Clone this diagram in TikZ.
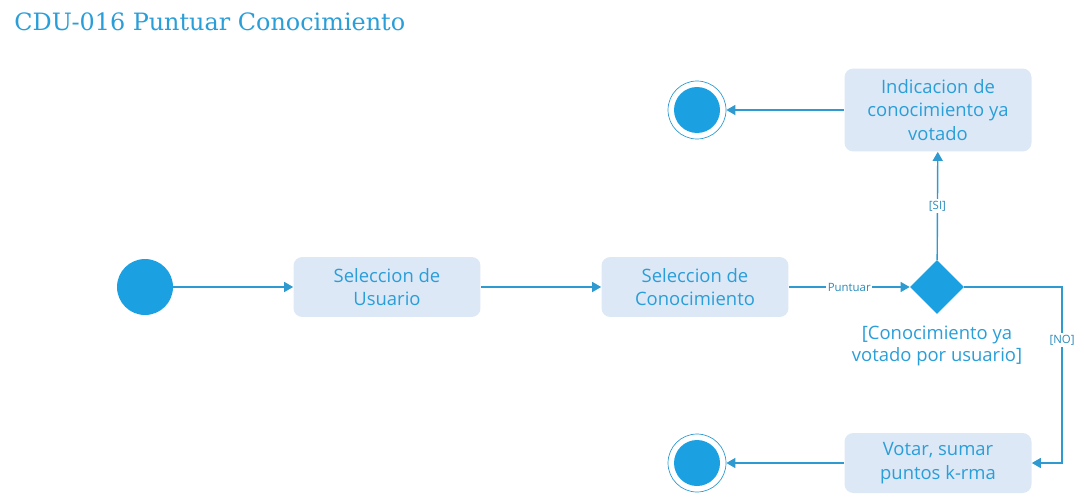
\documentclass[tikz,border=0pt]{standalone}
\usepackage{fontspec}
\setmainfont{Open Sans}
\newfontfamily\titlefont{DejaVu Serif}
\usetikzlibrary{arrows.meta,positioning,shapes.geometric}
\definecolor{accent}{HTML}{1BA1E2}
\definecolor{linec}{HTML}{2E9AD0}
\definecolor{boxfill}{HTML}{DCE8F6}
\definecolor{txt}{HTML}{2A9ED8}

\begin{document}
\begin{tikzpicture}[x=0.02cm, y=-0.02cm,
  every node/.style={font=\fontsize{10.5}{13.5}\selectfont, text=txt},
  act/.style={fill=boxfill, rounded corners=5pt,
              minimum width=3.74cm, minimum height=1.2cm,
              align=center, inner sep=2pt},
  startnode/.style={circle, fill=accent, minimum size=1.12cm, inner sep=0pt},
  endnode/.style={circle, draw=linec, line width=0.4pt, minimum size=1.16cm, inner sep=0pt,
                  path picture={\fill[accent] (path picture bounding box.center) circle (0.46cm);}},
  decision/.style={diamond, fill=accent, minimum size=1.08cm, inner sep=0pt},
  guard/.style={font=\fontsize{6.5}{8}\selectfont, fill=white, inner sep=1pt, text=linec!90!black},
  arr/.style={-{Triangle[length=1.8mm, width=2mm]}, line width=0.8pt, draw=linec}
]
  \useasboundingbox (0,0) rectangle (1084,497);

  \node[anchor=base west, inner sep=0pt, font=\titlefont\fontsize{13.6}{16}\selectfont, text=txt] (title)
    at (14,31) {CDU-016 Puntuar Conocimiento};

  % main flow
  \node[startnode] (start) at (145,287) {};
  \node[act] (selusr) at (387,287) {Seleccion de\\Usuario};
  \node[act] (selcon) at (695,287) {Seleccion de\\Conocimiento};
  \node[decision] (dec) at (937,287) {};
  \node[align=center, font=\fontsize{10.5}{13}\selectfont] (declbl) at (937,346)
    {[Conocimiento ya\\votado por usuario]};

  % outcomes
  \node[act, minimum height=1.66cm] (ind) at (938,110)
    {Indicacion de\\conocimiento ya\\votado};
  \node[act] (vot) at (938,463) {Votar, sumar\\puntos k-rma};
  \node[endnode] (end1) at (697,110) {};
  \node[endnode] (end2) at (697,463) {};
  \coordinate (nocorner) at (1062,287);

  \draw[arr] (start) -- (selusr);
  \draw[arr] (selusr) -- (selcon);
  \draw[arr] (selcon) -- node[guard]{Puntuar} (dec);
  \draw[arr] (dec) -- node[guard]{[SI]} (ind);
  \draw[arr] (dec) -- (nocorner) |- node[guard, pos=0.15]{[NO]} (vot);
  \draw[arr] (ind) -- (end1);
  \draw[arr] (vot) -- (end2);
\end{tikzpicture}
\end{document}
